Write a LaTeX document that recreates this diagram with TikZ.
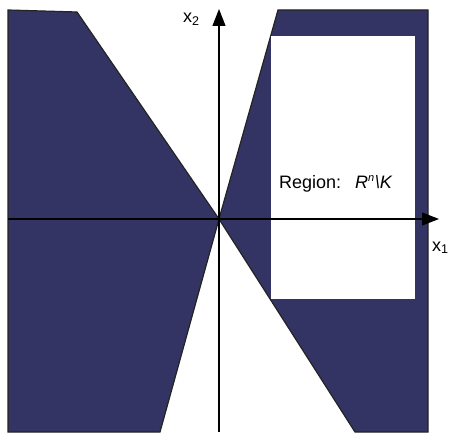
\documentclass[tikz,border=0pt]{standalone}
\usepackage{fontspec}
\setmainfont{Liberation Sans}
\usetikzlibrary{arrows.meta}
\definecolor{navy}{RGB}{51,52,100}
\definecolor{edge}{RGB}{35,35,35}
\tikzset{
  region/.style={fill=navy, draw=edge, line width=1.2pt, line join=miter},
  axis/.style={line width=1.3pt, -{Triangle[length=17pt,width=13pt]}},
  lab/.style={inner sep=0pt, font=\fontsize{18}{20}\selectfont},
}
\begin{document}
\begin{tikzpicture}[x=1pt,y=-1pt]
\useasboundingbox (0,0) rectangle (450,436);
% key points
\coordinate (O) at (219,219);
% left region
\draw[region] (8,10) -- (77,12) -- (O) -- (160,432) -- (8,432) -- cycle;
% right region
\draw[region] (278,10) -- (428,10) -- (428,432) -- (355,432) -- (O) -- cycle;
\fill[white] (270.5,36) rectangle (415,299);
% axes
\coordinate (xs) at (8,219);
\coordinate (xe) at (439,219);
\coordinate (ys) at (219,432);
\coordinate (ye) at (219,9);
\draw[axis] (xs) -- (xe);
\draw[axis] (ys) -- (ye);
% labels
\node[lab, anchor=base west] (lx2) at (183,23) {x\textsubscript{2}};
\node[lab, anchor=base west] (lx1) at (432,251) {x\textsubscript{1}};
\node[inner sep=0pt, anchor=base west, font=\fontsize{18}{20}\selectfont] (reg) at (279,188)
  {Region:\hspace{14pt}\textit{R\textsuperscript{\fontsize{11}{12}\selectfont n}\textbackslash K}};
\end{tikzpicture}
\end{document}
